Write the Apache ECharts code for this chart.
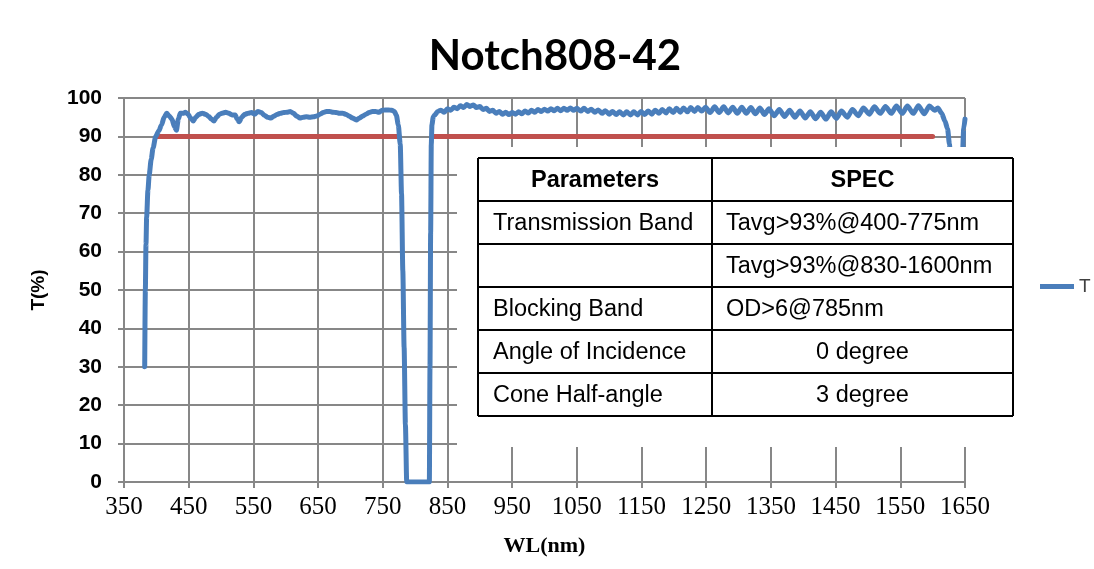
<!DOCTYPE html>
<html>
<head>
<meta charset="utf-8">
<script src="https://cdn.jsdelivr.net/npm/echarts@6/dist/echarts.min.js"></script>
<style>
html,body{margin:0;padding:0;background:#fff;}
#chart{width:1094px;height:569px;}
</style>
</head>
<body>
<div id="chart"></div>
<script>
// ---- data ----
const chartTitle = 'Notch808-42';
const xName = 'WL(nm)';
const yName = 'T(%)';
const seriesName = 'T';
const xMin = 350, xMax = 1650, xStep = 100;
const yMin = 0, yMax = 100, yStep = 10;

const wl = [382,383,384,385,387,389,392,395,399,404,408,412,416,420,424,428,431,434,437,441,445,449,453,457,461,466,471,476,481,485,489,493,498,503,507,512,517,522,525,528,532,537,542,547,552,557,562,567,572,577,582,587,592,597,602,607,612,617,622,627,632,637,643,648,653,658,663,668,673,678,683,688,693,698,703,709,714,719,724,729,734,739,744,749,754,759,764,768,771,774,777,779,781,783,785,787,822,823,824,825,826,828,
830,835,840,845,850,855,860,865,870,875,880,885,890,895,900,905,910,915,920,925,930,935,940,945,950,955,960,965,970,975,980,985,990,995,1000,1005,1010,1015,1020,1025,1030,1035,1040,1045,1050,1056,1061,1067,1072,1078,1083,1089,1094,1100,1105,1111,1116,1122,1127,1133,1138,1144,1149,1155,1160,1166,1171,1177,1182,1188,1193,1199,1204,1210,1215,1221,1226,1232,1237,1243,1249,1256,1263,1270,1277,1284,1291,1298,1305,1312,1319,1326,1333,1340,1347,1355,1363,1371,1379,1387,1395,1403,1411,1419,1427,1435,1443,1451,1459,1468,1476,1485,1493,1502,1510,1519,1527,1536,1544,1553,1561,1570,1578,1587,1595,1603,1608,1614,1619,1623,1626,1629,1633,1638,1642,1646,1648,1650];
const tPct = [30,50,62,69,76,80,84,87,90,91.5,93,95,96,95.3,94.5,92.5,91.6,94.5,96,96,96.3,95.8,94.8,94,95,95.8,96,95.8,95.2,94.5,94,95,95.8,96.1,96.3,96,95.6,95.6,94.5,93.8,95,95.8,96,96.2,95.8,96.5,96.2,95.5,95,94.8,95.3,95.8,96,96.2,96.3,96.5,96,95.3,94.8,95,95.1,95,95.1,95.3,95.8,96.2,96.5,96.5,96.3,96.2,96,96,95.8,95.3,94.8,94.3,94.8,95.3,95.8,96.2,96.5,96.5,96.3,96.8,96.9,96.9,96.8,96.5,95.5,93,88,75,55,35,15,0,0,30,65,88,93,95,
95.5,96.5,96.8,96.3,97.2,96.8,97.6,97.2,98.0,97.5,98.3,97.8,98.2,97.5,97.8,97.0,97.3,96.5,96.8,96.0,96.5,95.8,96.3,95.7,96.2,95.8,96.4,95.9,96.6,96.1,96.8,96.3,97.0,96.5,97.1,96.6,97.2,96.7,97.3,96.7,97.3,96.8,97.4,96.8,97.3,96.6,97.3,96.5,97.1,96.3,96.9,96.0,96.7,95.8,96.5,95.7,96.4,95.6,96.4,95.6,96.4,95.6,96.5,95.7,96.6,95.8,96.8,96.0,97.0,96.1,97.2,96.2,97.3,96.3,97.4,96.4,97.5,96.5,97.5,96.6,97.6,96.2,97.7,96.2,97.7,96.1,97.6,96.0,97.6,96.0,97.5,95.9,97.4,95.7,97.2,95.4,97.0,95.2,96.8,95.0,96.6,94.8,96.4,94.6,96.3,94.5,96.4,94.7,96.6,95.0,97.0,95.4,97.4,95.8,97.7,96.0,97.8,96.0,97.9,96.0,97.9,96.0,98.0,95.9,97.9,96.8,97.4,96.0,94.0,92.0,88,75,55,50,65,85,92,94.5];

const specWl = [400, 775, null, 830, 1600];
const specT  = [90, 90, null, 90, 90];

const tableParams = ['Parameters', 'Transmission Band', '', 'Blocking Band', 'Angle of Incidence', 'Cone Half-angle'];
const tableSpec   = ['SPEC', 'Tavg>93%@400-775nm', 'Tavg>93%@830-1600nm', 'OD>6@785nm', '0 degree', '3 degree'];
const specCentered = [true, false, false, false, true, true];

// ---- build ----
const tData = wl.map((x, i) => [x, tPct[i]]);
const specData = specWl.map((x, i) => x === null ? ['-', '-'] : [x, specT[i]]);

const gridCol = '#878787';
const tabL = 478, tabM = 712, tabR = 1013, tabT = 158, rowH = 43;
const tabFont = '"Liberation Sans", Arial, sans-serif';
const graphics = [];
graphics.push({type:'rect', z:100, shape:{x:457, y:147, width:570, height:300}, style:{fill:'#fff'}});
const nRows = tableParams.length;
for (let r = 0; r <= nRows; r++) {
  const y = tabT + r * rowH;
  graphics.push({type:'line', z:101, shape:{x1:tabL, y1:y, x2:tabR, y2:y}, style:{stroke:'#000', lineWidth:2}});
}
[tabL, tabM, tabR].forEach(x => {
  graphics.push({type:'line', z:101, shape:{x1:x, y1:tabT, x2:x, y2:tabT + nRows*rowH}, style:{stroke:'#000', lineWidth:2}});
});
for (let r = 0; r < nRows; r++) {
  const cy = tabT + r * rowH + rowH / 2 + 1;
  const hdr = r === 0;
  graphics.push({type:'text', z:102, style:{
    text: tableParams[r], x: hdr ? (tabL + tabM)/2 : tabL + 15, y: cy,
    textAlign: hdr ? 'center' : 'left', textVerticalAlign:'middle',
    font: (hdr ? 'bold ' : '') + '23.5px ' + tabFont, fill:'#000'}});
  const cen = specCentered[r];
  graphics.push({type:'text', z:102, style:{
    text: tableSpec[r], x: cen ? (tabM + tabR)/2 : tabM + 14, y: cy,
    textAlign: cen ? 'center' : 'left', textVerticalAlign:'middle',
    font: (hdr ? 'bold ' : '') + '23.5px ' + tabFont, fill:'#000'}});
}

const chart = echarts.init(document.getElementById('chart'), null, {renderer:'canvas'});
chart.setOption({
  animation: false,
  backgroundColor: '#fff',
  title: {
    text: chartTitle, left: 555, top: 35, textAlign: 'center', padding: 0,
    textStyle: {fontFamily: 'Lato, "Open Sans", sans-serif', fontWeight: 'bold', fontSize: 42, color: '#000'}
  },
  legend: {
    data: [{name: seriesName, icon: 'rect'}],
    left: 1040, top: 277, padding: 0, itemWidth: 34, itemHeight: 5,
    textStyle: {fontFamily: '"Liberation Sans", Arial, sans-serif', fontSize: 19, color: '#404040'}
  },
  grid: {left: 124, right: 129, top: 98, bottom: 87, containLabel: false},
  xAxis: {
    type: 'value', min: xMin, max: xMax, interval: xStep,
    name: xName, nameLocation: 'middle', nameGap: 53,
    nameTextStyle: {fontFamily: '"Liberation Serif", serif', fontWeight: 'bold', fontSize: 22, color: '#000'},
    axisLine: {show: true, lineStyle: {color: gridCol, width: 2}},
    axisTick: {show: true, length: 6, lineStyle: {color: gridCol, width: 2}},
    axisLabel: {margin: 13, fontFamily: '"Liberation Serif", serif', fontSize: 25, color: '#000',
      formatter: v => String(v)},
    splitLine: {show: true, lineStyle: {color: gridCol, width: 2}}
  },
  yAxis: {
    type: 'value', min: yMin, max: yMax, interval: yStep,
    name: yName, nameLocation: 'middle', nameGap: 76, nameRotate: 90,
    nameTextStyle: {fontFamily: '"Liberation Sans", Arial, sans-serif', fontWeight: 'bold', fontSize: 19, color: '#000'},
    axisLine: {show: false},
    axisTick: {show: true, length: 6, lineStyle: {color: gridCol, width: 2}},
    axisLabel: {margin: 22, fontFamily: '"Liberation Sans", Arial, sans-serif', fontWeight: 'bold', fontSize: 21, color: '#000'},
    splitLine: {show: true, lineStyle: {color: gridCol, width: 2}}
  },
  series: [
    {
      name: 'spec', type: 'line', data: specData, showSymbol: false, connectNulls: false,
      lineStyle: {color: '#c0504d', width: 5, cap: 'round'}, z: 3, silent: true
    },
    {
      name: seriesName, type: 'line', data: tData, showSymbol: false,
      smooth: 0.25, smoothMonotone: 'x',
      itemStyle: {color: '#4a7ebb'},
      lineStyle: {color: '#4a7ebb', width: 5, join: 'round', cap: 'round'}, z: 4
    }
  ],
  graphic: graphics
});
</script>
</body>
</html>
